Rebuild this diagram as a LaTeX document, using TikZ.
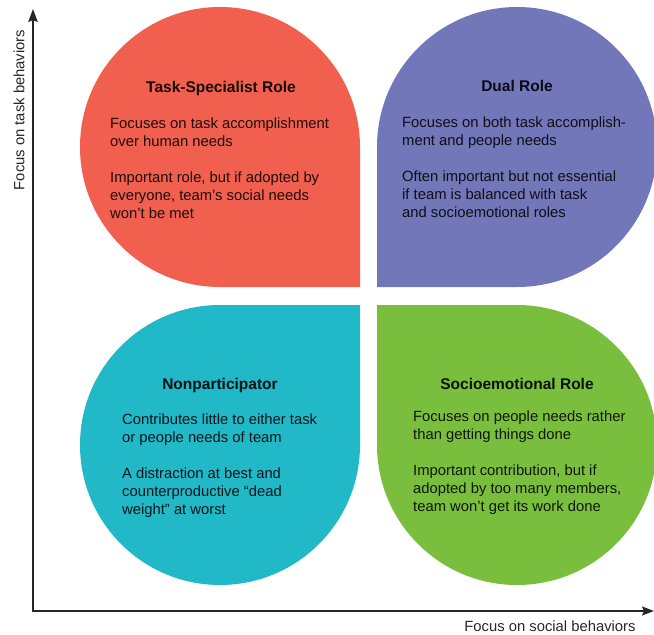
\documentclass[tikz,border=0pt]{standalone}
\usepackage{fontspec}
\setmainfont{Liberation Sans}
\usetikzlibrary{arrows.meta}
\definecolor{rolered}{RGB}{241,95,78}
\definecolor{rolepurple}{RGB}{113,119,184}
\definecolor{roleteal}{RGB}{33,184,200}
\definecolor{rolegreen}{RGB}{122,190,62}
\begin{document}
\begin{tikzpicture}[x=1pt,y=-1pt,
  roletitle/.style={font=\fontsize{15.5}{18}\selectfont\bfseries, anchor=base, inner sep=0pt, text=black, text opacity=0.9},
  rolebody/.style={font=\fontsize{14.8}{18}\selectfont, anchor=north west, align=left, inner sep=0pt, text=black, text opacity=0.88},
  axislabel/.style={font=\fontsize{14.8}{18}\selectfont, text=black!85, inner sep=0pt},
  axisline/.style={line width=1.6pt, draw=black!85, line join=miter, {Stealth[length=13pt,width=9.5pt,inset=2pt]}-{Stealth[length=12pt,width=9pt,inset=2pt]}}
]
\useasboundingbox (0,0) rectangle (654,635);

% quadrant shapes
\fill[rolered]    (360,147) -- (360,287) -- (220,287) arc (90:360:140) -- cycle;
\fill[rolepurple] (377,147) -- (377,287) -- (517,287) arc (90:-180:140) -- cycle;
\fill[roleteal]   (360,445) -- (360,305) -- (220,305) arc (-90:-360:140) -- cycle;
\fill[rolegreen]  (377,445) -- (377,305) -- (517,305) arc (270:540:140) -- cycle;

% axes
\coordinate (origin) at (33,611);
\coordinate (ytop) at (33,9);
\coordinate (xend) at (654,611);
\draw[axisline] (ytop) -- (origin) -- (xend);
\node[axislabel, rotate=90] (ylab) at (19,110) {Focus on task behaviors};
\node[axislabel] (xlab) at (550,626) {Focus on social behaviors};

% texts
\node[roletitle] (t1) at (221,92) {Task-Specialist Role};
\node[rolebody] (b1) at (110,118) {Focuses on task accomplishment\\over human needs\\[18pt]Important role, but if adopted by\\everyone, team’s social needs\\won’t be met};

\node[roletitle] (t2) at (517,91) {Dual Role};
\node[rolebody] (b2) at (402,117) {Focuses on both task accomplish-\\ment and people needs\\[18pt]Often important but not essential\\if team is balanced with task\\and socioemotional roles};

\node[roletitle] (t3) at (220,389) {Nonparticipator};
\node[rolebody] (b3) at (122,414) {Contributes little to either task\\or people needs of team\\[18pt]A distraction at best and\\counterproductive “dead\\weight” at worst};

\node[roletitle] (t4) at (517,389) {Socioemotional Role};
\node[rolebody] (b4) at (413,411) {Focuses on people needs rather\\than getting things done\\[18pt]Important contribution, but if\\adopted by too many members,\\team won’t get its work done};
\end{tikzpicture}
\end{document}
